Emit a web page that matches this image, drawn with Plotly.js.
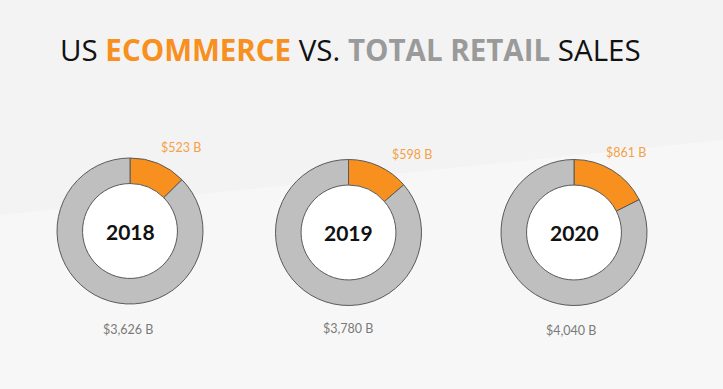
<!DOCTYPE html>
<html>
<head>
<meta charset="utf-8">
<script src="https://cdn.plot.ly/plotly-3.0.1.min.js"></script>
<style>html,body{margin:0;padding:0;background:#f4f4f4;}#chart{width:723px;height:389px;}</style>
</head>
<body>
<div id="chart"></div>
<script>
// Data
const years = ['2018', '2019', '2020'];
const ecommerceSales = [523, 598, 861];      // $ billions
const totalRetailSales = [3626, 3780, 4040]; // $ billions

// Layout (pixel geometry of each donut)
const W = 723, H = 389;
const centers = [[130, 231], [348.5, 232.5], [574, 232.5]];
const R = 73;
const HOLE = 0.65;
const ecomLabelPos = [[181, 147.5], [411.5, 154], [626, 152.5]];
const totalLabelPos = [[128, 329], [348, 328], [571, 330]];

const px = x => x / W;
const py = y => 1 - y / H;
const fmt = v => '$' + v.toLocaleString('en-US') + ' B';

const traces = years.map((yr, i) => {
  const [cx, cy] = centers[i];
  return {
    type: 'pie',
    values: [ecommerceSales[i], totalRetailSales[i]],
    labels: ['US ecommerce', 'Total retail'],
    sort: false,
    direction: 'clockwise',
    rotation: 0,
    hole: HOLE,
    textinfo: 'none',
    hoverinfo: 'label+value',
    showlegend: false,
    marker: { colors: ['#f7901e', '#bfbfbf'], line: { color: '#5a5a5a', width: 1 } },
    domain: { x: [px(cx - R), px(cx + R)], y: [py(cy + R), py(cy - R)] }
  };
});

const shapes = [
  { type: 'path', xref: 'paper', yref: 'paper', layer: 'below',
    path: 'M 0 ' + py(215) + ' L 1 ' + py(140) + ' L 1 0 L 0 0 Z',
    fillcolor: '#f7f7f7', line: { width: 0 } }
];
centers.forEach(([cx, cy]) => {
  const r = R * HOLE;
  shapes.push({ type: 'circle', xref: 'paper', yref: 'paper', layer: 'below',
    x0: px(cx - r), x1: px(cx + r), y0: py(cy + r), y1: py(cy - r),
    fillcolor: '#ffffff', line: { width: 0 } });
});

const annotations = [];
years.forEach((yr, i) => {
  annotations.push({ text: '<b>' + yr + '</b>', x: px(centers[i][0]), y: py(centers[i][1]),
    xref: 'paper', yref: 'paper', showarrow: false, xanchor: 'center', yanchor: 'middle',
    font: { family: 'Lato', size: 21, color: '#111111' } });
  annotations.push({ text: fmt(ecommerceSales[i]), x: px(ecomLabelPos[i][0]), y: py(ecomLabelPos[i][1]),
    xref: 'paper', yref: 'paper', showarrow: false, xanchor: 'center', yanchor: 'middle',
    font: { family: 'Lato', size: 12.5, color: '#f3a146' } });
  annotations.push({ text: fmt(totalRetailSales[i]), x: px(totalLabelPos[i][0]), y: py(totalLabelPos[i][1]),
    xref: 'paper', yref: 'paper', showarrow: false, xanchor: 'center', yanchor: 'middle',
    font: { family: 'Lato', size: 12.5, color: '#7a7a7a' } });
});

const layout = {
  width: W, height: H,
  margin: { l: 0, r: 0, t: 0, b: 0 },
  paper_bgcolor: '#f3f3f3',
  plot_bgcolor: '#f3f3f3',
  title: {
    text: 'US <b><span style="color:#f7901e">ECOMMERCE</span></b> VS. <b><span style="color:#9a9a9a">TOTAL RETAIL</span></b> SALES',
    x: px(60), xanchor: 'left', xref: 'paper',
    y: py(51), yanchor: 'middle', yref: 'paper',
    font: { family: 'Open Sans', size: 29.5, color: '#111111' }
  },
  shapes: shapes,
  annotations: annotations
};

Plotly.newPlot('chart', traces, layout, { displayModeBar: false, staticPlot: true });
</script>
</body>
</html>
